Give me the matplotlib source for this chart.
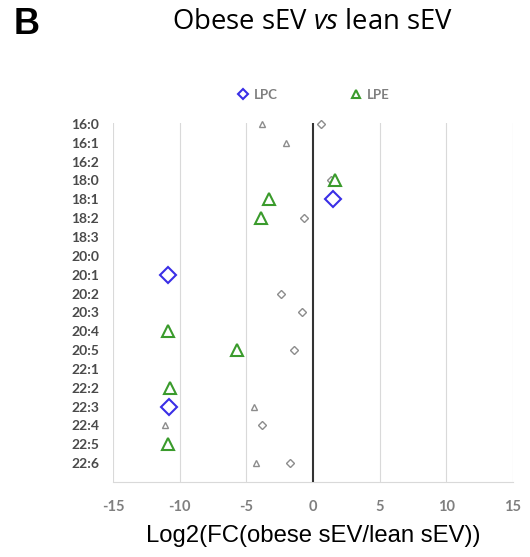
import numpy as np
import matplotlib
matplotlib.use('Agg')
import matplotlib.pyplot as plt
from matplotlib.lines import Line2D

# ---------------------------------------------------------
# Data: log2 fold change per fatty-acyl species
# (NaN = no value for that class / significance group)
# ---------------------------------------------------------
species = ['16:0', '16:1', '16:2', '18:0', '18:1', '18:2', '18:3',
           '20:0', '20:1', '20:2', '20:3', '20:4', '20:5',
           '22:1', '22:2', '22:3', '22:4', '22:5', '22:6']

nan = np.nan
# significant changes
lpc_sig = [nan, nan, nan, nan, 1.48, nan, nan,
           nan, -10.9, nan, nan, nan, nan,
           nan, nan, -10.78, nan, nan, nan]
lpe_sig = [nan, nan, nan, 1.65, -3.3, -3.9, nan,
           nan, nan, nan, nan, -10.9, -5.7,
           nan, -10.7, nan, nan, -10.9, nan]
# non-significant changes
lpc_ns = [0.58, nan, nan, 1.33, nan, -0.65, nan,
          nan, nan, -2.4, -0.83, nan, -1.4,
          nan, nan, nan, -3.8, nan, -1.73]
lpe_ns = [-3.85, -2.05, nan, nan, nan, nan, nan,
          nan, nan, nan, nan, nan, nan,
          nan, nan, -4.4, -11.08, nan, -4.25]

x_ticks = [-15, -10, -5, 0, 5, 10, 15]

C_LPC  = '#3a2ee6'
C_LPE  = '#3a9b2c'
C_NS   = '#8c8c8c'
C_GRID = '#d9d9d9'
C_TXT  = '#7f7f7f'

plt.rcParams['mathtext.fontset'] = 'custom'
plt.rcParams['mathtext.rm'] = 'Open Sans'
plt.rcParams['mathtext.it'] = 'Open Sans:italic'

fig = plt.figure(figsize=(5.30, 5.57), dpi=100)
ax = fig.add_axes([113 / 530, 1 - 482 / 557, 400 / 530, 359 / 557])

rows = np.arange(len(species))

for vals, mk, col, ms, mew in [
        (lpc_ns, 'D', C_NS, 4.2, 1.0),
        (lpe_ns, '^', C_NS, 5.0, 1.0),
        (lpc_sig, 'D', C_LPC, 8.0, 1.5),
        (lpe_sig, '^', C_LPE, 9.0, 1.5)]:
    ax.plot(vals, rows, ls='none', marker=mk, ms=ms, mfc='white',
            mec=col, mew=mew, clip_on=False, zorder=4)

ax.axvline(0, color='#333333', lw=1.5, zorder=3)
for xv in x_ticks:
    if xv != 0:
        ax.axvline(xv, color=C_GRID, lw=0.8, zorder=1)

ax.set_xlim(-15, 15)
ax.set_ylim(19, -0.05)
ax.set_xticks(x_ticks)
ax.set_xticklabels([str(v) for v in x_ticks], family='Lato',
                   fontweight='bold', fontsize=10.5, color=C_TXT)
ax.set_yticks(rows)
ax.set_yticklabels(species, family='Lato', fontweight='bold',
                   fontsize=10, color='#4a4a4a')
ax.tick_params(axis='both', length=0)
ax.tick_params(axis='x', pad=13)
ax.tick_params(axis='y', pad=10)
for side in ['top', 'right', 'left']:
    ax.spines[side].set_visible(False)
ax.spines['bottom'].set_color(C_GRID)
ax.spines['bottom'].set_linewidth(0.8)

ax.set_xlabel('Log2(FC(obese sEV/lean sEV))', family='Liberation Sans',
              fontsize=17.2, color='black', labelpad=8)

# legend above the plot
handles = [Line2D([], [], ls='none', marker='D', ms=5, mfc='white',
                  mec=C_LPC, mew=1.5),
           Line2D([], [], ls='none', marker='^', ms=6, mfc='white',
                  mec=C_LPE, mew=1.5)]
leg = fig.legend(handles, ['LPC', 'LPE'], loc='center',
                 bbox_to_anchor=(313 / 530, 1 - 95 / 557), ncol=2,
                 frameon=False, columnspacing=5.5, handletextpad=0.3,
                 handlelength=1.0, prop={'family': 'Lato', 'weight': 'bold',
                                         'size': 9.5})
for t in leg.get_texts():
    t.set_color(C_TXT)

fig.text(313 / 530, 1 - 22 / 557, r'Obese sEV $\mathit{vs}$ lean sEV',
         ha='center', va='center', family='Open Sans', fontsize=19.8)
fig.text(14 / 530, 1 - 24 / 557, 'B', ha='left', va='center',
         family='Liberation Sans', fontweight='bold', fontsize=26)

fig.savefig('out.png', dpi=100)
